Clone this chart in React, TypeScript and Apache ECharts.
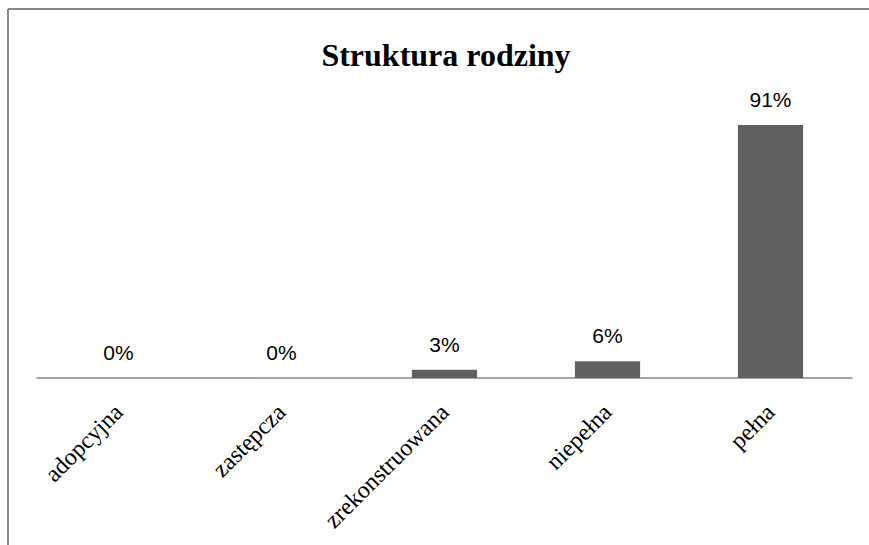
import React, { useEffect, useRef } from "react";
import * as echarts from "echarts";

const categories = ["adopcyjna", "zastępcza", "zrekonstruowana", "niepełna", "pełna"];
const values = [0, 0, 3, 6, 91];
const title = "Struktura rodziny";

export default function App() {
  const ref = useRef<HTMLDivElement>(null);
  useEffect(() => {
    if (!ref.current) return;
    const chart = echarts.init(ref.current, undefined, { renderer: "svg" });
    chart.setOption({
      animation: false,
      backgroundColor: "#ffffff",
      title: {
        text: title,
        left: 441,
        textAlign: "center",
        top: 34,
        textStyle: {
          fontFamily: "'Liberation Serif', 'Times New Roman', serif",
          fontWeight: "bold",
          fontSize: 32,
          color: "#000000",
        },
      },
      graphic: [
        {
          type: "line",
          shape: { x1: 8, y1: 9, x2: 869, y2: 9 },
          style: { stroke: "#878787", lineWidth: 2 },
        },
        {
          type: "line",
          shape: { x1: 8, y1: 9, x2: 8, y2: 545 },
          style: { stroke: "#878787", lineWidth: 2 },
        },
      ],
      grid: { left: 37, right: 17, top: 100, bottom: 167 },
      xAxis: {
        type: "category",
        data: categories,
        axisLine: { lineStyle: { color: "#878787", width: 1.5 } },
        axisTick: { show: false },
        axisLabel: {
          rotate: 45,
          margin: 30,
          interval: 0,
          color: "#000000",
          fontFamily: "'Liberation Serif', 'Times New Roman', serif",
          fontSize: 24,
        },
      },
      yAxis: {
        type: "value",
        min: 0,
        max: 100,
        show: false,
        splitLine: { show: false },
      },
      series: [
        {
          type: "bar",
          data: values,
          barWidth: "40%",
          itemStyle: { color: "#606060" },
          label: {
            show: true,
            position: "top",
            distance: 15,
            formatter: "{c}%",
            color: "#000000",
            fontFamily: "'Liberation Sans', Arial, sans-serif",
            fontSize: 21,
          },
        },
      ],
    });
    return () => chart.dispose();
  }, []);
  return (
    <div
      ref={ref}
      style={{ position: "fixed", left: 0, top: 0, width: 869, height: 545, background: "#fff" }}
    />
  );
}
